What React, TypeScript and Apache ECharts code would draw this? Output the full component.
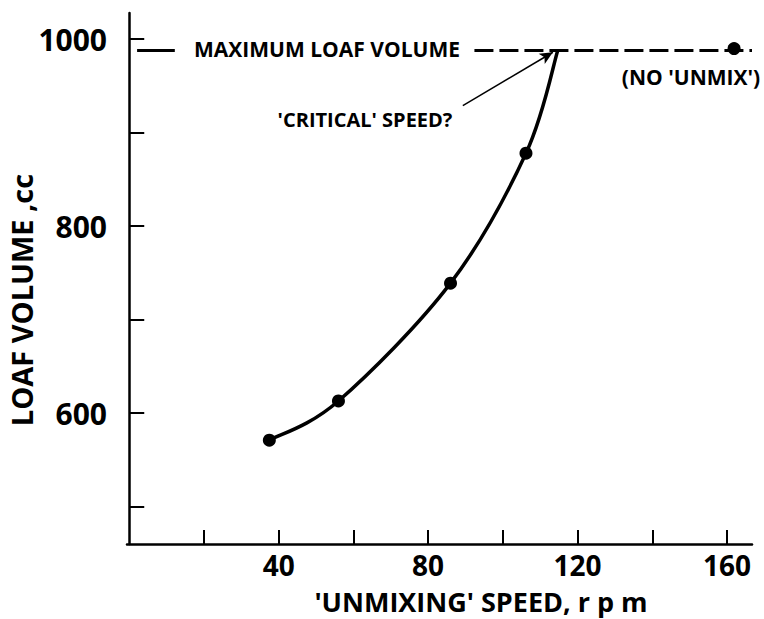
import React, { useEffect, useRef } from "react";
import * as echarts from "echarts";

// Measured points (x: 'unmixing' speed rpm, y: loaf volume cc)
const pointSpeeds = [37.5, 56, 86, 106.2, 161.9];
const pointVolumes = [571, 613, 739, 878, 990];

// Fitted curve through the mixed points, ending at the 'critical' speed
const curveSpeeds = [37.5, 56, 86, 106.2, 114.7];
const curveVolumes = [571, 613, 739, 878, 988];

const maxLoafVolume = 988;
const xTickValues = [20, 40, 60, 80, 100, 120, 140, 160];
const xLabelValues = [40, 80, 120, 160];
const yTickValues = [500, 600, 700, 800, 900, 1000];
const yLabelValues = [600, 800, 1000];

const arrowFrom = [89.3, 929];
const arrowTo = [113.4, 986];

const FONT = "Open Sans";

export default function App() {
  const ref = useRef<HTMLDivElement>(null);
  useEffect(() => {
    if (!ref.current) return;
    const chart = echarts.init(ref.current, null, { renderer: "svg" });
    const points = pointSpeeds.map((x, i) => [x, pointVolumes[i]]);
    const curve = curveSpeeds.map((x, i) => [x, curveVolumes[i]]);

    const renderCurve = (params: any, api: any) => {
      if (params.dataIndex !== 0) return null;
      const p = curve.map((d) => api.coord(d));
      const n = p.length;
      let d = `M${p[0][0]},${p[0][1]}`;
      for (let i = 0; i < n - 1; i++) {
        const p0 = p[Math.max(i - 1, 0)];
        const p1 = p[i];
        const p2 = p[i + 1];
        const p3 = p[Math.min(i + 2, n - 1)];
        const c1x = p1[0] + (p2[0] - p0[0]) / 6;
        const c1y = p1[1] + (p2[1] - p0[1]) / 6;
        const c2x = p2[0] - (p3[0] - p1[0]) / 6;
        const c2y = p2[1] - (p3[1] - p1[1]) / 6;
        d += ` C${c1x},${c1y} ${c2x},${c2y} ${p2[0]},${p2[1]}`;
      }
      return {
        type: "path",
        shape: { pathData: d },
        style: { stroke: "#000", lineWidth: 3.5, fill: "none" },
      };
    };

    chart.setOption({
      animation: false,
      backgroundColor: "#ffffff",
      grid: { left: 127, right: 12, top: 13, bottom: 75 },
      xAxis: {
        type: "value",
        min: -0.6,
        max: 166.7,
        splitLine: { show: false },
        axisLine: { show: true, lineStyle: { color: "#000", width: 2.5 } },
        axisTick: {
          show: true,
          inside: true,
          length: 14,
          lineStyle: { color: "#000", width: 2 },
          customValues: xTickValues,
        },
        axisLabel: {
          customValues: xLabelValues,
          formatter: (v: number) => String(v),
          color: "#000",
          fontFamily: FONT,
          fontWeight: "bold",
          fontSize: 28,
          lineHeight: 28,
          margin: 7,
        },
      },
      yAxis: {
        type: "value",
        min: 460,
        max: 1028,
        splitLine: { show: false },
        axisLine: { show: true, lineStyle: { color: "#000", width: 2.5 } },
        axisTick: {
          show: true,
          inside: true,
          length: 15,
          lineStyle: { color: "#000", width: 2 },
          customValues: yTickValues,
        },
        axisLabel: {
          customValues: yLabelValues,
          formatter: (v: number) => String(v),
          color: "#000",
          fontFamily: FONT,
          fontWeight: "bold",
          fontSize: 30,
          margin: 20,
        },
      },
      series: [
        {
          type: "custom",
          data: curve,
          renderItem: renderCurve,
          clip: false,
          silent: true,
          z: 2,
        },
        {
          type: "scatter",
          data: points,
          symbol: "circle",
          symbolSize: 13,
          itemStyle: { color: "#000", opacity: 1 },
          clip: false,
          z: 3,
          markLine: {
            silent: true,
            symbol: ["none", "none"],
            label: { show: false },
            data: [
              [
                { coord: [2.1, maxLoafVolume], lineStyle: { type: "solid", width: 3, color: "#000" } },
                { coord: [12.2, maxLoafVolume] },
              ],
              [
                { coord: [92.4, maxLoafVolume], lineStyle: { type: [19, 6], width: 3, color: "#000" } },
                { coord: [166.7, maxLoafVolume] },
              ],
              [
                {
                  coord: arrowFrom,
                  symbol: "none",
                  lineStyle: { type: "solid", width: 1.5, color: "#000" },
                },
                { coord: arrowTo, symbol: "arrow", symbolSize: [9, 13] },
              ],
            ],
          },
        },
      ],
      graphic: [
        {
          type: "text",
          x: 21,
          y: 300,
          rotation: Math.PI / 2,
          style: {
            text: "LOAF VOLUME ,cc",
            fontFamily: FONT,
            fontWeight: "bold",
            fontSize: 29,
            fill: "#000",
            textAlign: "center",
            textVerticalAlign: "middle",
          },
        },
        {
          type: "text",
          x: 481,
          y: 601,
          style: {
            text: "'UNMIXING' SPEED, r p m",
            fontFamily: FONT,
            fontWeight: "bold",
            fontSize: 27,
            lineHeight: 27,
            fill: "#000",
            textAlign: "center",
            textVerticalAlign: "middle",
          },
        },
        {
          type: "text",
          x: 327,
          y: 49,
          style: {
            text: "MAXIMUM LOAF VOLUME",
            fontFamily: FONT,
            fontWeight: "bold",
            fontSize: 21,
            fill: "#000",
            textAlign: "center",
            textVerticalAlign: "middle",
          },
        },
        {
          type: "text",
          x: 365,
          y: 119,
          style: {
            text: "'CRITICAL' SPEED?",
            fontFamily: FONT,
            fontWeight: "bold",
            fontSize: 20,
            fill: "#000",
            textAlign: "center",
            textVerticalAlign: "middle",
          },
        },
        {
          type: "text",
          x: 691,
          y: 77,
          style: {
            text: "(NO 'UNMIX')",
            fontFamily: FONT,
            fontWeight: "bold",
            fontSize: 21,
            fill: "#000",
            textAlign: "center",
            textVerticalAlign: "middle",
          },
        },
      ],
    });
    return () => chart.dispose();
  }, []);
  return (
    <div
      ref={ref}
      style={{ position: "absolute", left: 0, top: 0, width: 764, height: 619, background: "#fff" }}
    />
  );
}
